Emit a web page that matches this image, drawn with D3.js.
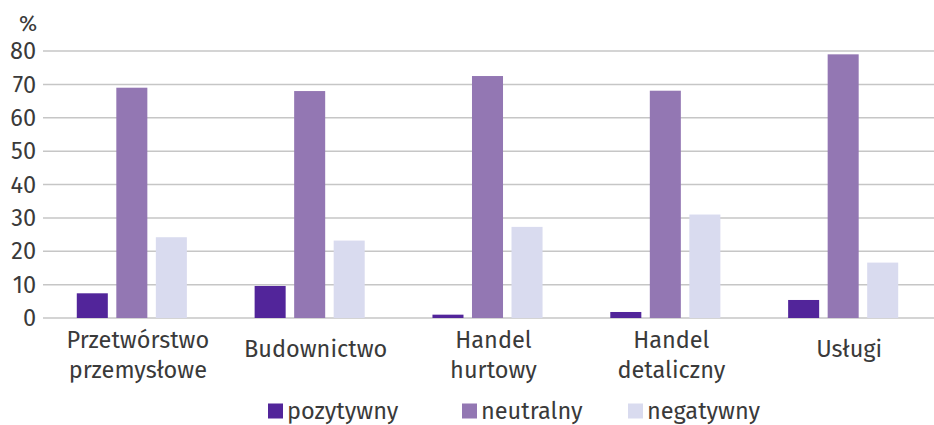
<!DOCTYPE html>
<html><head><meta charset="utf-8">
<script src="https://cdn.jsdelivr.net/npm/d3@7"></script>
<style>
html,body{margin:0;padding:0;background:#fff;}
svg{display:block;font-family:"Fira Sans","Roboto","Noto Sans",sans-serif;}
</style></head>
<body>
<svg id="chart" width="934" height="425"></svg>
<script>
const categories = [["Przetwórstwo","przemysłowe"],["Budownictwo"],["Handel","hurtowy"],["Handel","detaliczny"],["Usługi"]];
const seriesNames = ["pozytywny","neutralny","negatywny"];
const pozytywny = [7.4, 9.6, 1.0, 1.8, 5.4];
const neutralny = [69.0, 68.0, 72.5, 68.1, 79.0];
const negatywny = [24.2, 23.2, 27.3, 31.0, 16.6];
const yTicks = [0,10,20,30,40,50,60,70,80];
const colors = ["#52259a","#9377b3","#d9dbef"];

const seriesValues = [pozytywny, neutralny, negatywny];
const catKeys = categories.map(c => c.join(" "));
const svg = d3.select("#chart");
const textColor = "#3a3a3a";

const y = d3.scaleLinear().domain([0,80]).range([318, 51]);
const x0 = d3.scaleBand().domain(catKeys).range([43, 932]).paddingInner(0.381).paddingOuter(0.19);
const x1 = d3.scaleBand().domain(seriesNames).range([0, x0.bandwidth()]).paddingInner(0.215).paddingOuter(0);

// gridlines
svg.append("g").selectAll("line").data(yTicks).join("line")
  .attr("x1", 43).attr("x2", 934)
  .attr("y1", d => y(d)).attr("y2", d => y(d))
  .attr("stroke", "#c6c6c6").attr("stroke-width", 1.5);

// y axis labels
svg.append("g").selectAll("text").data(yTicks).join("text")
  .attr("x", 36).attr("y", d => y(d)).attr("dy", "0.35em")
  .attr("text-anchor", "end").attr("font-size", 23.5).attr("fill", textColor)
  .text(d => d);
svg.append("text").attr("x", 28).attr("y", 23.5).attr("dy","0.35em")
  .attr("text-anchor","middle").attr("font-size", 22).attr("fill", textColor).text("%");

// bars
const groups = svg.append("g").selectAll("g").data(catKeys).join("g")
  .attr("transform", d => `translate(${x0(d)},0)`);
groups.selectAll("rect").data((d,i) => seriesNames.map((s,j) => ({s, v: seriesValues[j][i], j})))
  .join("rect")
  .attr("x", d => x1(d.s)).attr("width", x1.bandwidth())
  .attr("y", d => y(d.v)).attr("height", d => y(0) - y(d.v))
  .attr("fill", d => colors[d.j]);

// category labels
const labels = svg.append("g").selectAll("text").data(categories).join("text")
  .attr("text-anchor", "middle").attr("font-size", 23.5).attr("fill", textColor)
  .attr("transform", (d,i) => `translate(${x0(catKeys[i]) + x0.bandwidth()/2 + 6},0)`);
labels.each(function(d){
  const t = d3.select(this);
  if (d.length === 1) {
    t.append("tspan").attr("x",0).attr("y", 349).attr("dy","0.35em").text(d[0]);
  } else {
    d.forEach((line,k) => t.append("tspan").attr("x",0).attr("y", 340 + k*30).attr("dy","0.35em").text(line));
  }
});

// legend
const legendX = [268, 462, 628];
const lg = svg.append("g").selectAll("g").data(seriesNames).join("g")
  .attr("transform", (d,i) => `translate(${legendX[i]},411)`);
lg.append("rect").attr("x",0).attr("y",-7.5).attr("width",15).attr("height",15).attr("fill",(d,i)=>colors[i]);
lg.append("text").attr("x",19).attr("y",0).attr("dy","0.35em").attr("font-size",23.5).attr("fill",textColor).text(d=>d);
</script>
</body></html>
